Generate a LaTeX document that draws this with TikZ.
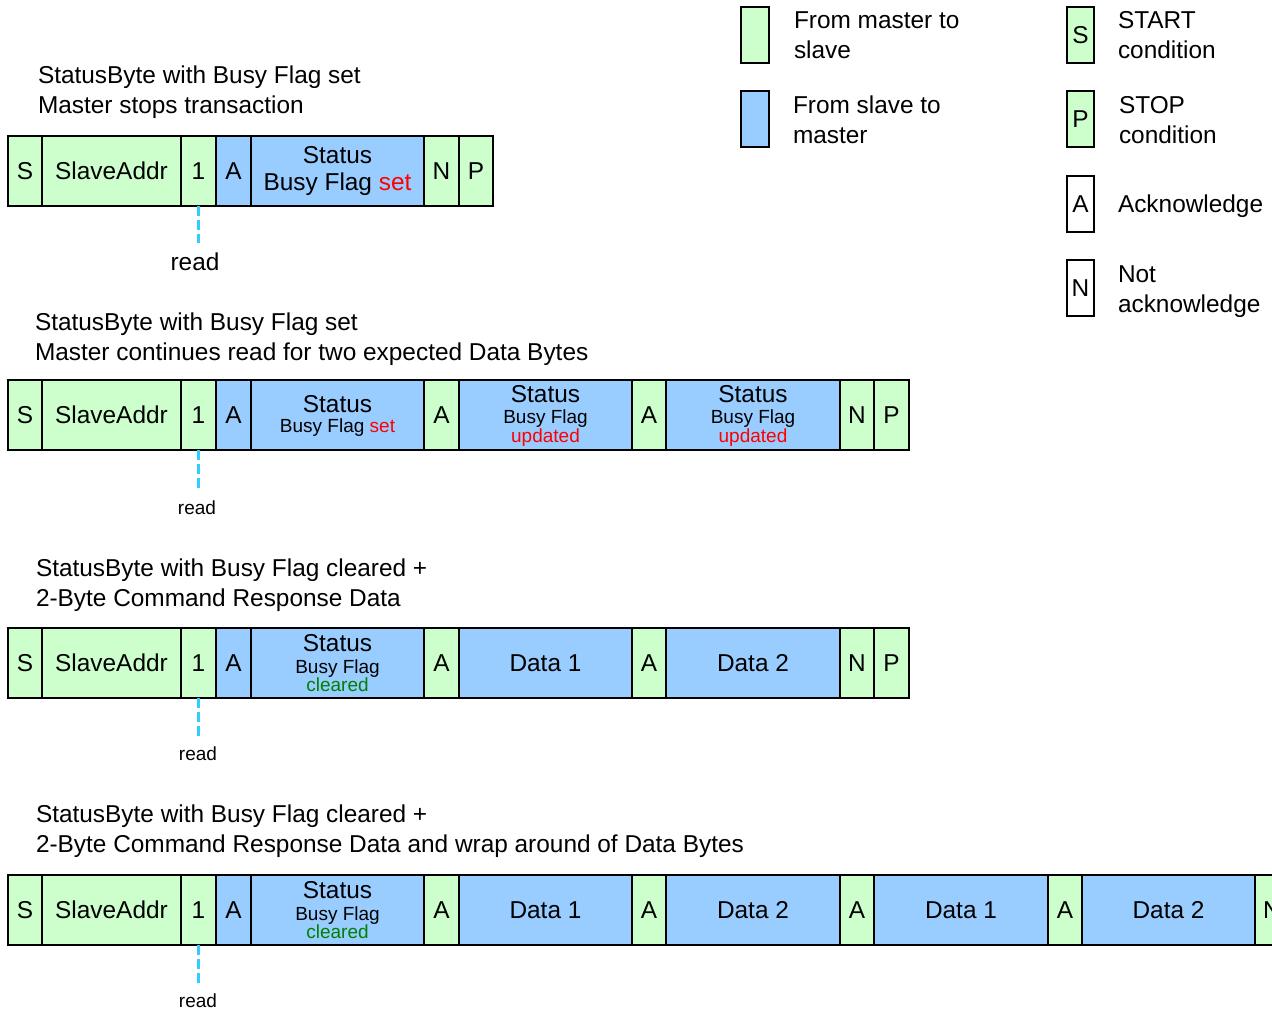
\documentclass[tikz,border=0pt]{standalone}
\usepackage{fontspec}
\setmainfont{Liberation Sans}
\definecolor{mgreen}{RGB}{204,255,204}
\definecolor{sblue}{RGB}{153,204,255}
\definecolor{rdblue}{RGB}{51,204,255}
\definecolor{clgreen}{RGB}{0,128,0}
\newcommand\fbig{\fontsize{24.4}{30}\selectfont}
\newcommand\fsml{\fontsize{19}{23}\selectfont}
\begin{document}
\begin{tikzpicture}[x=1pt,y=-1pt,
 cell/.style={draw=black, line width=2pt, minimum height=70pt, inner sep=0pt, outer sep=0pt, font=\fbig, anchor=west},
 gcell/.style={cell, fill=mgreen},
 bcell/.style={cell, fill=sblue},
 txt/.style={inner sep=0pt, outer sep=0pt, font=\fbig},
 stxt/.style={inner sep=0pt, outer sep=0pt, font=\fsml},
 rdline/.style={draw=rdblue, line width=2.5pt, dash pattern=on 10pt off 4pt, shorten >=9pt},
 leg/.style={draw=black, line width=1.5pt, minimum width=28pt, minimum height=56pt, inner sep=0pt, outer sep=0pt, font=\fbig},
]
\useasboundingbox (0,0) rectangle (1272,1012);
\clip (0,0) rectangle (1272,1012);

% ---------- Legend ----------
\node[leg, fill=mgreen] (lgm) at (755,35) {};
\node[txt, anchor=base west] (lgm1) at (794,28) {From master to};
\node[txt, anchor=base west] (lgm2) at (794,58) {slave};
\node[leg, fill=sblue] (lgs) at (755,119) {};
\node[txt, anchor=base west] (lgs1) at (793,113) {From slave to};
\node[txt, anchor=base west] (lgs2) at (793,143) {master};

\node[leg, fill=mgreen, minimum width=27pt] (lgS) at (1080.5,35) {S};
\node[txt, anchor=base west] (lgS1) at (1118,28) {START};
\node[txt, anchor=base west] (lgS2) at (1118,58) {condition};
\node[leg, fill=mgreen, minimum width=27pt] (lgP) at (1080.5,119) {P};
\node[txt, anchor=base west] (lgP1) at (1119,113) {STOP};
\node[txt, anchor=base west] (lgP2) at (1119,143) {condition};
\node[leg, fill=white, minimum width=27pt] (lgA) at (1080.5,204) {A};
\node[txt, anchor=base west] (lgA1) at (1118,212) {Acknowledge};
\node[leg, fill=white, minimum width=27pt] (lgN) at (1080.5,288) {N};
\node[txt, anchor=base west] (lgN1) at (1118,282) {Not};
\node[txt, anchor=base west] (lgN2) at (1118,312) {acknowledge};

% ---------- Row 1 ----------
\node[txt, anchor=base west] (t1a) at (38,83) {StatusByte with Busy Flag set};
\node[txt, anchor=base west] (t1b) at (38,113) {Master stops transaction};
\node[gcell, minimum width=34] (r1s) at (8,171) {S};
\node[gcell, minimum width=139] (r1addr) at (r1s.east) {SlaveAddr};
\node[gcell, minimum width=35] (r1one) at (r1addr.east) {1};
\node[bcell, minimum width=35] (r1a) at (r1one.east) {A};
\node[bcell, minimum width=173] (r1st) at (r1a.east) {};
\node[gcell, minimum width=35] (r1n) at (r1st.east) {N};
\node[gcell, minimum width=34] (r1p) at (r1n.east) {P};
\node[txt, anchor=base] (r1st1) at ([yshift=-27pt]r1st.north) {Status};
\node[txt, anchor=base] (r1st2) at ([yshift=-54pt]r1st.north) {Busy Flag \textcolor{red}{set}};
\node[txt, anchor=base] (r1read) at (195,270) {read};
\draw[rdline] (r1one.south) -- (r1one.south |- r1read.north);

% ---------- Row 2 ----------
\node[txt, anchor=base west] (t2a) at (35,330) {StatusByte with Busy Flag set};
\node[txt, anchor=base west] (t2b) at (35,360) {Master continues read for two expected Data Bytes};
\node[gcell, minimum width=34] (r2s) at (8,415) {S};
\node[gcell, minimum width=139] (r2addr) at (r2s.east) {SlaveAddr};
\node[gcell, minimum width=35] (r2one) at (r2addr.east) {1};
\node[bcell, minimum width=35] (r2a) at (r2one.east) {A};
\node[bcell, minimum width=173] (r2st) at (r2a.east) {};
\node[gcell, minimum width=35] (r2a2) at (r2st.east) {A};
\node[bcell, minimum width=173] (r2u1) at (r2a2.east) {};
\node[gcell, minimum width=34] (r2a3) at (r2u1.east) {A};
\node[bcell, minimum width=174] (r2u2) at (r2a3.east) {};
\node[gcell, minimum width=34] (r2n) at (r2u2.east) {N};
\node[gcell, minimum width=35] (r2p) at (r2n.east) {P};
\node[txt, anchor=base] (r2st1) at ([yshift=-32pt]r2st.north) {Status};
\node[stxt, anchor=base] (r2st2) at ([yshift=-52pt]r2st.north) {Busy Flag \textcolor{red}{set}};
\node[txt, anchor=base] (r2u11) at ([yshift=-22pt]r2u1.north) {Status};
\node[stxt, anchor=base] (r2u12) at ([yshift=-43pt]r2u1.north) {Busy Flag};
\node[stxt, anchor=base, text=red] (r2u13) at ([yshift=-62pt]r2u1.north) {updated};
\node[txt, anchor=base] (r2u21) at ([yshift=-22pt]r2u2.north) {Status};
\node[stxt, anchor=base] (r2u22) at ([yshift=-43pt]r2u2.north) {Busy Flag};
\node[stxt, anchor=base, text=red] (r2u23) at ([yshift=-62pt]r2u2.north) {updated};
\node[stxt, anchor=base] (r2read) at (197,514) {read};
\draw[rdline] (r2one.south) -- (r2one.south |- r2read.north);

% ---------- Row 3 ----------
\node[txt, anchor=base west] (t3a) at (36,576) {StatusByte with Busy Flag cleared +};
\node[txt, anchor=base west] (t3b) at (36,606) {2-Byte Command Response Data};
\node[gcell, minimum width=34] (r3s) at (8,663) {S};
\node[gcell, minimum width=139] (r3addr) at (r3s.east) {SlaveAddr};
\node[gcell, minimum width=35] (r3one) at (r3addr.east) {1};
\node[bcell, minimum width=35] (r3a) at (r3one.east) {A};
\node[bcell, minimum width=173] (r3st) at (r3a.east) {};
\node[gcell, minimum width=35] (r3a2) at (r3st.east) {A};
\node[bcell, minimum width=173] (r3d1) at (r3a2.east) {Data 1};
\node[gcell, minimum width=34] (r3a3) at (r3d1.east) {A};
\node[bcell, minimum width=174] (r3d2) at (r3a3.east) {Data 2};
\node[gcell, minimum width=34] (r3n) at (r3d2.east) {N};
\node[gcell, minimum width=35] (r3p) at (r3n.east) {P};
\node[txt, anchor=base] (r3st1) at ([yshift=-23pt]r3st.north) {Status};
\node[stxt, anchor=base] (r3st2) at ([yshift=-45pt]r3st.north) {Busy Flag};
\node[stxt, anchor=base, text=clgreen] (r3st3) at ([yshift=-63pt]r3st.north) {cleared};
\node[stxt, anchor=base] (r3read) at (198,760) {read};
\draw[rdline] (r3one.south) -- (r3one.south |- r3read.north);

% ---------- Row 4 ----------
\node[txt, anchor=base west] (t4a) at (36,822) {StatusByte with Busy Flag cleared +};
\node[txt, anchor=base west] (t4b) at (36,852) {2-Byte Command Response Data and wrap around of Data Bytes};
\node[gcell, minimum width=34] (r4s) at (8,910) {S};
\node[gcell, minimum width=139] (r4addr) at (r4s.east) {SlaveAddr};
\node[gcell, minimum width=35] (r4one) at (r4addr.east) {1};
\node[bcell, minimum width=35] (r4a) at (r4one.east) {A};
\node[bcell, minimum width=173] (r4st) at (r4a.east) {};
\node[gcell, minimum width=35] (r4a2) at (r4st.east) {A};
\node[bcell, minimum width=173] (r4d1) at (r4a2.east) {Data 1};
\node[gcell, minimum width=34] (r4a3) at (r4d1.east) {A};
\node[bcell, minimum width=174] (r4d2) at (r4a3.east) {Data 2};
\node[gcell, minimum width=34] (r4a4) at (r4d2.east) {A};
\node[bcell, minimum width=174] (r4d3) at (r4a4.east) {Data 1};
\node[gcell, minimum width=34] (r4a5) at (r4d3.east) {A};
\node[bcell, minimum width=173] (r4d4) at (r4a5.east) {Data 2};
\node[gcell, minimum width=34] (r4n) at (r4d4.east) {N};
\node[txt, anchor=base] (r4st1) at ([yshift=-23pt]r4st.north) {Status};
\node[stxt, anchor=base] (r4st2) at ([yshift=-45pt]r4st.north) {Busy Flag};
\node[stxt, anchor=base, text=clgreen] (r4st3) at ([yshift=-63pt]r4st.north) {cleared};
\node[stxt, anchor=base] (r4read) at (198,1007) {read};
\draw[rdline] (r4one.south) -- (r4one.south |- r4read.north);
\end{tikzpicture}
\end{document}
